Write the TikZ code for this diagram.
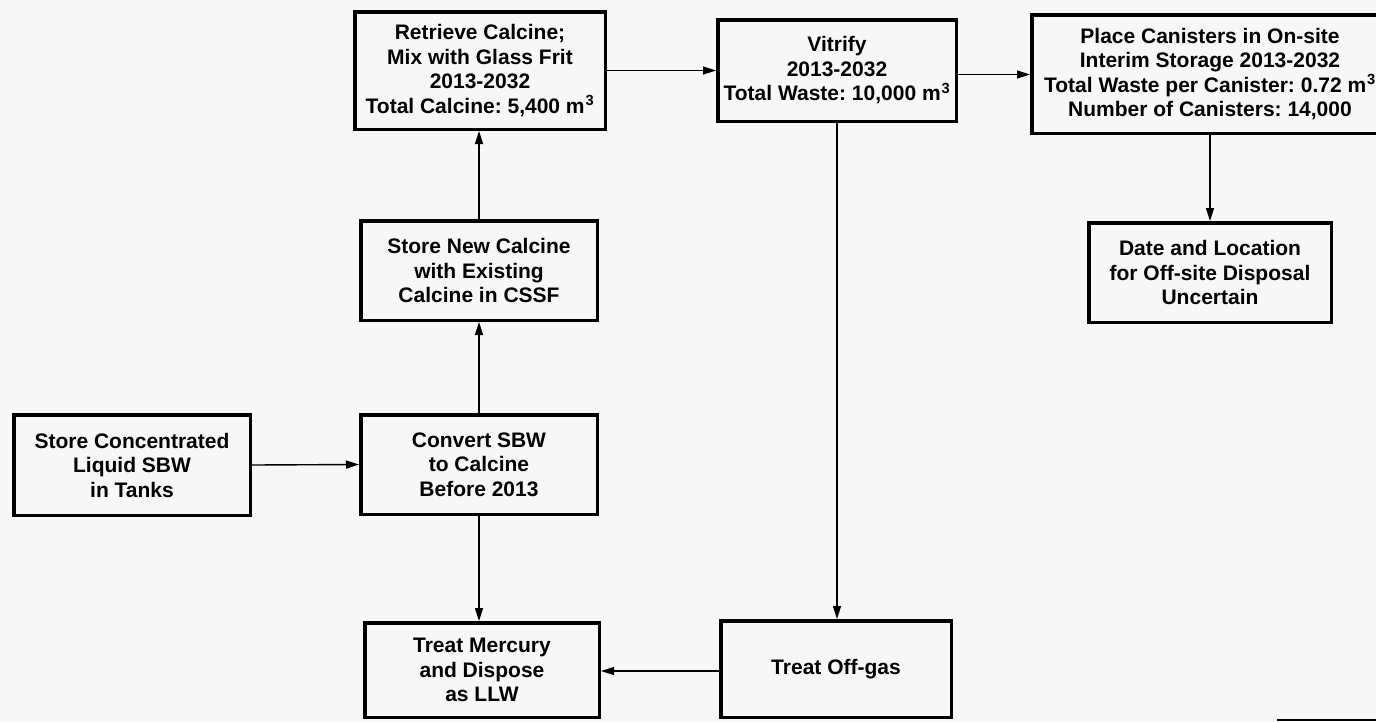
\documentclass[tikz,border=0pt]{standalone}
\usepackage{fontspec}
\setmainfont{Liberation Sans}
\usetikzlibrary{arrows.meta}
\definecolor{paper}{RGB}{247,247,247}
\newcommand{\cubic}{\kern1pt\textsuperscript{3}}
\frenchspacing
\tikzset{
  stage/.style={draw=black, line width=3.5pt, rectangle, inner sep=0pt,
    align=center, font=\bfseries\fontsize{21}{24.5}\selectfont},
  flow/.style={line width=1.4pt, -{Triangle[length=13pt,width=8pt]}}
}
\begin{document}
\begin{tikzpicture}[x=1pt,y=-1pt]
\useasboundingbox (0,0) rectangle (1376,721);
\fill[paper] (0,0) rectangle (1376,721);
\clip (0,0) rectangle (1376,721);

% process stages
\node[stage, minimum width=236.5pt, minimum height=100.5pt] (conc) at (132,465)
  {Store Concentrated\\Liquid SBW\\in Tanks};
\node[stage, minimum width=236.5pt, minimum height=99.5pt] (conv) at (479,464.5)
  {Convert SBW\\to Calcine\\Before 2013};
\node[stage, minimum width=236.5pt, minimum height=99.5pt] (sn) at (479,270.5)
  {Store New Calcine\\with Existing\\Calcine in CSSF};
\node[stage, minimum width=250.5pt, minimum height=117.5pt] (ret) at (480,70.5)
  {Retrieve Calcine;\\Mix with Glass Frit\\2013-2032\\Total Calcine: 5,400 m\cubic};
\node[stage, minimum width=238.5pt, minimum height=101.5pt] (vit) at (837,70.5)
  {Vitrify\\2013-2032\\Total Waste: 10,000 m\cubic};
\node[stage, minimum width=356.5pt, minimum height=118.5pt] (place) at (1210,74)
  {Place Canisters in On-site\\Interim Storage 2013-2032\\Total Waste per Canister: 0.72 m\cubic\\Number of Canisters: 14,000};
\node[stage, minimum width=242.5pt, minimum height=99.5pt] (date) at (1210,272.5)
  {Date and Location\\for Off-site Disposal\\Uncertain};
\node[stage, minimum width=234.5pt, minimum height=94.5pt] (merc) at (482,670)
  {Treat Mercury\\and Dispose\\as LLW};
\node[stage, minimum width=230.5pt, minimum height=96.5pt] (off) at (836,669)
  {Treat Off-gas};

% connectors
\draw[flow] (conc.east) -- (conv.west);
\draw[flow] (conv.north) -- (sn.south);
\draw[flow] (sn.north) -- (sn.north |- ret.south);
\draw[flow] (conv.south) -- (conv.south |- merc.north);
\draw[flow] (ret.east) -- (vit.west);
\draw[flow] ([yshift=-4pt]vit.east) -- ([yshift=-4pt]vit.east -| place.west);
\draw[flow] (place.south -| date.north) -- (date.north);
\draw[flow] (vit.south) -- (vit.south |- off.north);
\draw[flow] ([yshift=-2pt]off.west) -- ([yshift=-2pt]off.west -| merc.east);

% edge of a neighbouring frame at the lower right
\draw[line width=2.5pt] (1277,720) -- (1376,720);
\end{tikzpicture}
\end{document}
